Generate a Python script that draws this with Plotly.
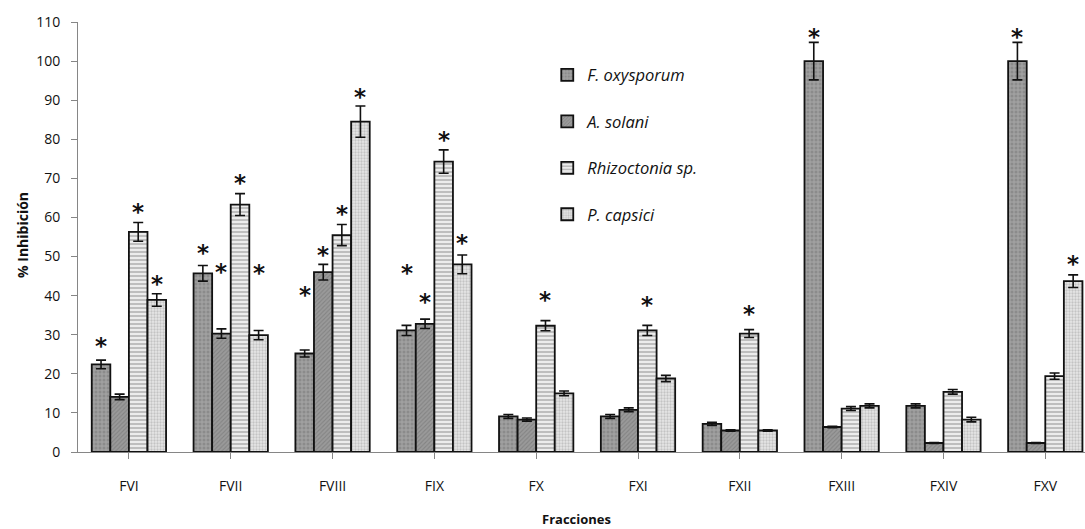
import plotly.graph_objects as go

# Fractions tested
fractions = ["FVI", "FVII", "FVIII", "FIX", "FX", "FXI", "FXII", "FXIII", "FXIV", "FXV"]

# % inhibition per pathogen (mean) and its error
f_oxysporum = [22.4, 45.7, 25.2, 31.1, 9.1, 9.1, 7.2, 100.0, 11.8, 100.0]
f_oxysporum_err = [1.1, 2.0, 0.9, 1.3, 0.5, 0.5, 0.4, 4.8, 0.5, 4.8]

a_solani = [14.1, 30.3, 46.0, 32.8, 8.3, 10.8, 5.5, 6.4, 2.3, 2.3]
a_solani_err = [0.7, 1.2, 2.0, 1.2, 0.4, 0.5, 0.2, 0.2, 0.1, 0.1]

rhizoctonia = [56.3, 63.3, 55.5, 74.3, 32.3, 31.1, 30.3, 11.1, 15.4, 19.4]
rhizoctonia_err = [2.4, 2.8, 2.7, 3.0, 1.3, 1.3, 1.0, 0.5, 0.6, 0.8]

p_capsici = [38.9, 29.9, 84.5, 48.0, 15.0, 18.8, 5.5, 11.8, 8.3, 43.7]
p_capsici_err = [1.6, 1.2, 4.0, 2.4, 0.6, 0.8, 0.2, 0.5, 0.6, 1.6]

# Significance marks: fraction index, series index, height of the mark
star_fraction = [0, 0, 0, 1, 1, 1, 1, 2, 2, 2, 2, 3, 3, 3, 3, 4, 5, 6, 7, 9, 9]
star_series = [0, 2, 3, 0, 1, 2, 3, 0, 1, 2, 3, 0, 1, 2, 3, 2, 2, 2, 0, 0, 3]
star_height = [27.1, 61.3, 43.1, 50.8, 46.1, 68.7, 45.7, 40.1, 50.5, 61.0, 90.7,
               45.9, 38.4, 79.8, 53.4, 38.8, 37.6, 35.4, 106.1, 106.1, 48.2]

names = ["<i>F. oxysporum</i>", "<i>A. solani</i>", "<i>Rhizoctonia sp.</i>", "<i>P. capsici</i>"]
values = [f_oxysporum, a_solani, rhizoctonia, p_capsici]
errors = [f_oxysporum_err, a_solani_err, rhizoctonia_err, p_capsici_err]
patterns = [
    dict(shape=".", bgcolor="#a0a0a0", fgcolor="#767676", size=4, solidity=0.45),
    dict(shape="/", bgcolor="#9a9a9a", fgcolor="#6c6c6c", size=3, solidity=0.35),
    dict(shape="-", bgcolor="#ffffff", fgcolor="#7e7e7e", size=4, solidity=0.65),
    dict(shape=".", bgcolor="#e6e6e6", fgcolor="#a0a0a0", size=3, solidity=0.45),
]

BARGAP = 0.27
N_SERIES = len(values)

fig = go.Figure()
for i in range(N_SERIES):
    fig.add_trace(go.Bar(
        name=names[i],
        x=list(range(len(fractions))),
        y=values[i],
        legendgroup=str(i),
        marker=dict(color=patterns[i]["bgcolor"], pattern=patterns[i],
                    line=dict(color="#111111", width=1.8)),
        error_y=dict(type="data", array=errors[i], visible=True,
                     color="#111111", thickness=1.6, width=5),
    ))

# Place the asterisks above the matching bars
bar_w = (1 - BARGAP) / N_SERIES
for f, s, h in zip(star_fraction, star_series, star_height):
    xpos = f - (1 - BARGAP) / 2 + bar_w * (s + 0.5)
    fig.add_annotation(x=xpos, y=h, xref="x", yref="y", text="<b>*</b>", showarrow=False,
                       font=dict(family="DejaVu Sans", size=23, color="#111111"),
                       xanchor="center", yanchor="middle", yshift=0)

fig.add_annotation(text="<b>% Inhibición</b>", xref="paper", yref="paper", x=0, y=0.5,
                   xshift=-56, yshift=2, textangle=-90, showarrow=False,
                   font=dict(family="Open Sans", size=14, color="#111111"),
                   xanchor="center", yanchor="middle")
fig.add_annotation(text="<b>Fracciones</b>", xref="paper", yref="paper", x=0.495, y=0,
                   yshift=-67, showarrow=False,
                   font=dict(family="Open Sans", size=13, color="#111111"),
                   xanchor="center", yanchor="middle")

axis_gray = "#868686"
fig.update_layout(
    width=1085, height=529,
    margin=dict(l=78, r=0, t=22, b=77),
    paper_bgcolor="white", plot_bgcolor="white",
    barmode="group", bargap=BARGAP, bargroupgap=0,
    font=dict(family="Open Sans", size=13, color="#111111"),
    showlegend=True,
    legend=dict(x=0.466, y=0.917, xanchor="left", yanchor="top",
                font=dict(family="Open Sans", size=16.5, color="#111111"),
                tracegroupgap=22, bgcolor="rgba(0,0,0,0)"),
    xaxis=dict(tickmode="array", tickvals=list(range(len(fractions))), ticktext=fractions,
               range=[-0.5, 9.39], showline=True, linecolor=axis_gray, linewidth=1,
               ticks="outside", tickson="boundaries", ticklen=6, tickcolor=axis_gray,
               showgrid=False, zeroline=False, ticklabelstandoff=15,
               tickfont=dict(family="Open Sans", size=14, color="#111111")),
    yaxis=dict(range=[0, 110], dtick=10, showline=True, linecolor=axis_gray, linewidth=1,
               ticks="outside", ticklen=6, tickcolor=axis_gray, showgrid=False,
               zeroline=False, ticklabelstandoff=8,
               tickfont=dict(family="Open Sans", size=14, color="#111111")),
)

fig.write_html("out.html")
